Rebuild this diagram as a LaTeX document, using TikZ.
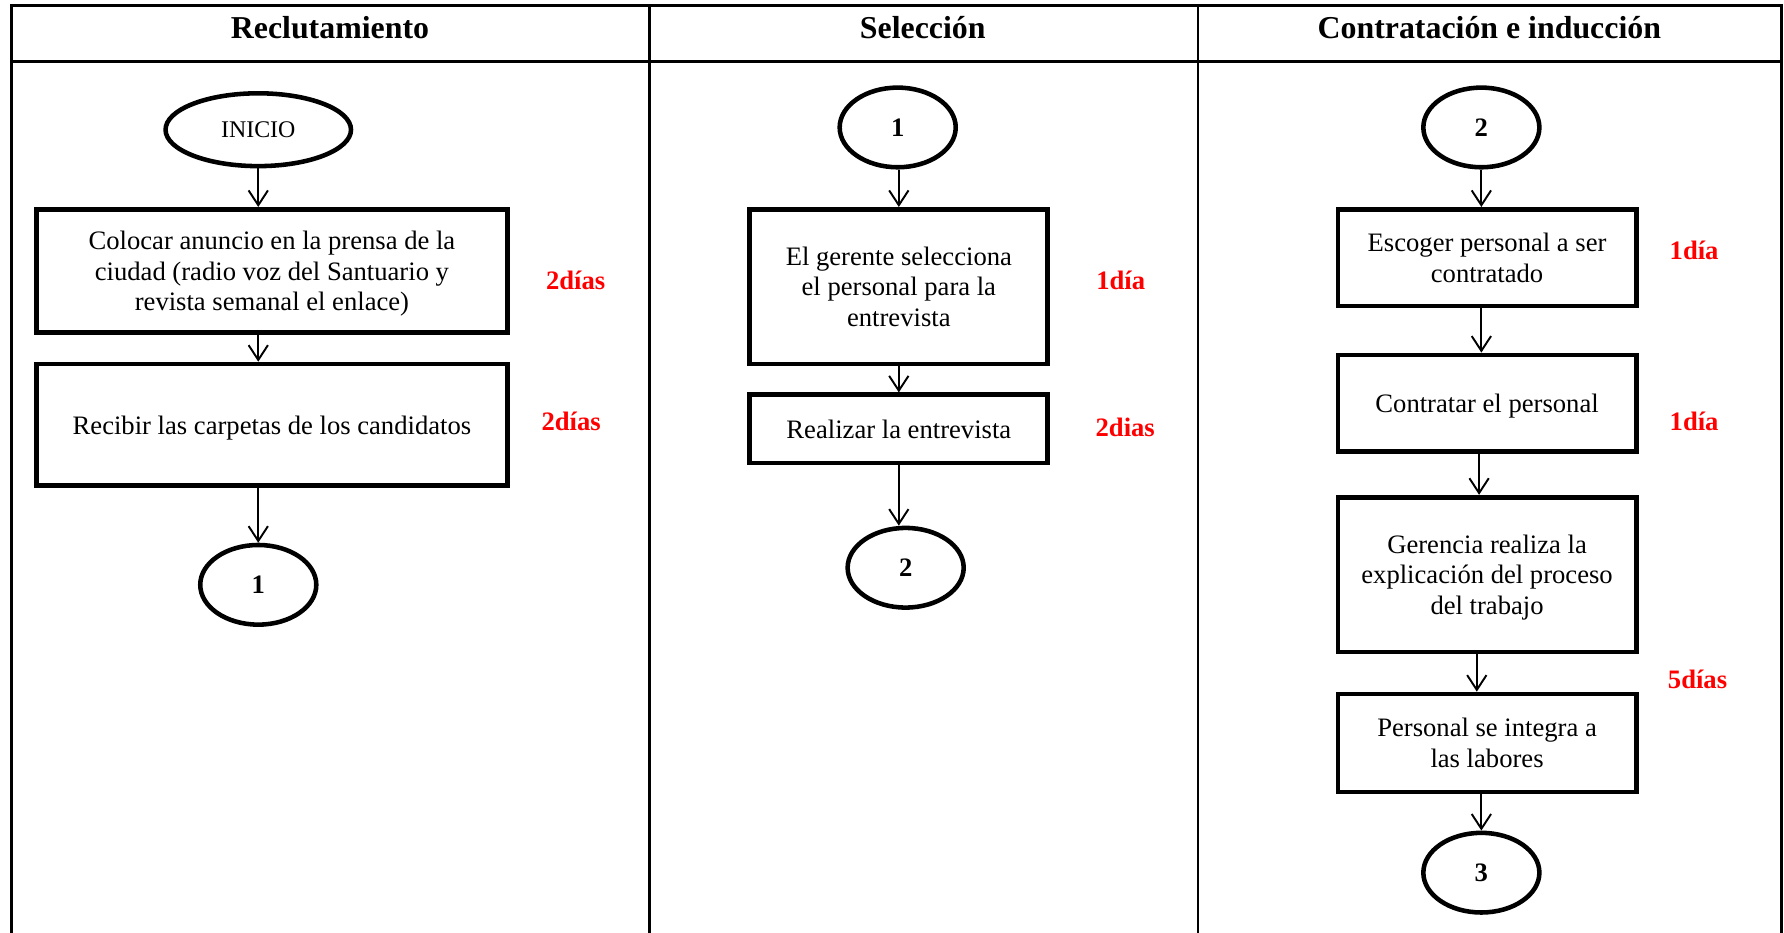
\documentclass[tikz,border=0pt]{standalone}
\usepackage{fontspec}
\setmainfont{Liberation Serif}
\usetikzlibrary{shapes.geometric,arrows.meta}
\definecolor{durred}{RGB}{255,0,0}
\begin{document}
\begin{tikzpicture}[x=0.5pt,y=-0.5pt,
  grid/.style={line width=1.1pt},
  proc/.style={draw, line width=2.1pt, rectangle, align=center, inner sep=0pt,
    text depth=0pt, font=\fontsize{11.7}{13.5}\selectfont},
  conn/.style={draw, line width=2pt, ellipse, inner sep=0pt,
    minimum width=51pt, minimum height=35pt,
    font=\fontsize{11.7}{13.5}\selectfont\bfseries},
  dur/.style={text=durred, inner sep=0pt, font=\fontsize{11.7}{13.5}\selectfont\bfseries},
  head/.style={inner sep=0pt, font=\fontsize{14}{16}\selectfont\bfseries},
  arr/.style={line width=0.85pt, -{Straight Barb[length=6.5pt,width=8.5pt,line width=0.85pt]}},
]
\useasboundingbox (0,0) rectangle (1568,820);

% swimlane table
\begin{scope}
  \clip (0,0) rectangle (1568,820);
  \draw[grid] (10,840) -- (10,5) -- (1566,5) -- (1566,840);
  \draw[grid] (10,54) -- (1566,54);
  \draw[grid] (571,5) -- (571,840);
  \draw[grid] (1053,5) -- (1053,840);
\end{scope}

\node[head] (h1) at (290,24) {Reclutamiento};
\node[head] (h2) at (811,24) {Selección};
\node[head] (h3) at (1309,24) {Contratación e inducción};

% Reclutamiento
\node[draw, line width=2pt, ellipse, inner sep=0pt, minimum width=81.5pt, minimum height=32pt,
  font=\fontsize{10.5}{12}\selectfont] (ini) at (227,114) {INICIO};
\node[proc, minimum width=207pt, minimum height=54pt] (b1) at (239,238)
  {Colocar anuncio en la prensa de la\\ciudad (radio voz del Santuario y\\revista semanal el enlace)};
\node[dur] (d1) at (506,246) {2días};
\node[proc, minimum width=207pt, minimum height=53.5pt] (b2) at (239,373.5)
  {Recibir las carpetas de los candidatos};
\node[dur] (d2) at (502,370) {2días};
\node[conn] (c1) at (227,514) {1};

\draw[arr] (ini) -- (ini |- b1.north);
\draw[arr] (b1.south -| ini) -- (b2.north -| ini);
\draw[arr] (b2.south -| c1) -- (c1);

% Seleccion
\node[conn] (s1) at (789,112) {1};
\node[proc, minimum width=131pt, minimum height=68pt] (b3) at (790,252)
  {El gerente selecciona\\el personal para la\\entrevista};
\node[dur] (d3) at (985,246) {1día};
\node[proc, minimum width=131pt, minimum height=30pt] (b4) at (790,377)
  {Realizar la entrevista};
\node[dur] (d4) at (989,376) {2dias};
\node[conn] (s2) at (796,499) {2};

\draw[arr] (s1.south -| b3) -- (b3.north);
\draw[arr] (b3.south) -- (b4.north);
\draw[arr] (b4.south) -- (b4.south |- s2.north);

% Contratacion e induccion
\node[conn] (k2) at (1302,112) {2};
\node[proc, minimum width=131pt, minimum height=42.5pt] (b5) at (1307,226.5)
  {Escoger personal a ser\\contratado};
\node[dur] (d5) at (1489,220) {1día};
\node[proc, minimum width=131pt, minimum height=42.5pt] (b6) at (1307,354.5)
  {Contratar el personal};
\node[dur] (d6) at (1489,370) {1día};
\node[proc, minimum width=131pt, minimum height=68pt] (b7) at (1307,505)
  {Gerencia realiza la\\explicación del proceso\\del trabajo};
\node[dur] (d7) at (1492,597) {5días};
\node[proc, minimum width=131pt, minimum height=43pt] (b8) at (1307,653)
  {Personal se integra a\\las labores};
\node[conn] (k3) at (1302,767) {3};

\draw[arr] (k2) -- (k2 |- b5.north);
\draw[arr] (b5.south -| k2) -- (b6.north -| k2);
\draw[arr] ([xshift=-1pt]b6.south -| k2) -- ([xshift=-1pt]b7.north -| k2);
\draw[arr] ([xshift=-2pt]b7.south -| k2) -- ([xshift=-2pt]b8.north -| k2);
\draw[arr] (b8.south -| k2) -- (k3);
\end{tikzpicture}
\end{document}
